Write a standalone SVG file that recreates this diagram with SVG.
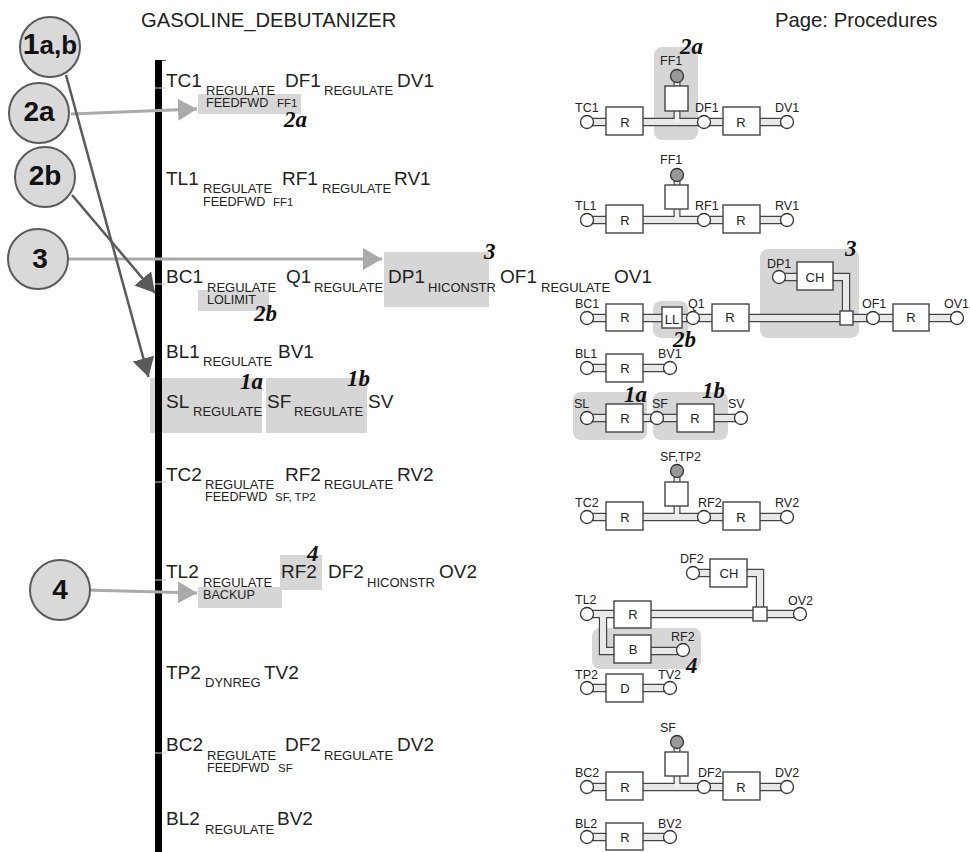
<svg xmlns="http://www.w3.org/2000/svg" width="970" height="852" viewBox="0 0 970 852">
<style>
text{font-family:"Liberation Sans",Arial,sans-serif;fill:#222}
.t{font-size:19px}.s{font-size:13px}.x{font-size:12.6px}.y{font-size:11.5px}.lb{font-size:12.5px}
.note{font-family:"Liberation Serif","Times New Roman",serif;font-style:italic;font-weight:bold;font-size:23px;fill:#111}
.num{font-weight:bold;font-size:28px;text-anchor:middle;fill:#111}
.bg{fill:#d6d6d6}
.po{fill:none;stroke:#444;stroke-width:8.4}
.pi{fill:none;stroke:#e8e8e8;stroke-width:6}
.so{fill:none;stroke:#444;stroke-width:7}
.si{fill:none;stroke:#f0f0f0;stroke-width:4.6}
.b{fill:#fff;stroke:#444;stroke-width:1.4}
.c{fill:#fff;stroke:#333;stroke-width:1.3}
.g{fill:#999;stroke:#333;stroke-width:1.3}
.bt{font-size:13px;text-anchor:middle}
.cir{fill:#d9d9d9;stroke:#5a5a5a;stroke-width:2}
.tick{stroke:#ccc;stroke-width:1}
</style>
<defs>
<marker id="al" markerUnits="userSpaceOnUse" markerWidth="20" markerHeight="22" refX="19" refY="11" orient="auto"><path d="M0 0L19 11L0 22z" fill="#aaa"/></marker>
<marker id="ad" markerUnits="userSpaceOnUse" markerWidth="20" markerHeight="22" refX="19" refY="11" orient="auto"><path d="M0 0L19 11L0 22z" fill="#5a5a5a"/></marker>
</defs>

<text x="141" y="27" style="font-size:20.2px">GASOLINE_DEBUTANIZER</text>
<text x="775" y="27" style="font-size:20.3px">Page: Procedures</text>

<g id="highlights">
<rect class="bg" x="198" y="94" width="103" height="20"/>
<rect class="bg" x="198" y="290" width="71" height="21"/>
<rect class="bg" x="384" y="252" width="105" height="55"/>
<rect class="bg" x="150" y="378" width="112" height="55"/>
<rect class="bg" x="266" y="378" width="101" height="55"/>
<rect class="bg" x="198" y="587" width="84" height="21"/>
<rect class="bg" x="280" y="555" width="42" height="35"/>
<rect class="bg" x="654" y="47" width="44" height="93" rx="8"/>
<rect class="bg" x="653" y="301" width="35" height="37" rx="8"/>
<rect class="bg" x="760" y="249" width="99" height="89" rx="8"/>
<rect class="bg" x="573" y="392" width="74" height="48" rx="8"/>
<rect class="bg" x="653" y="392" width="75" height="48" rx="8"/>
<rect class="bg" x="592" y="628" width="109" height="41" rx="8"/>
</g>

<g id="time-axis">
<rect x="155" y="60" width="7" height="792" fill="#000"/>
<path class="tick" d="M155 88H166M155 284H166M155 482H166M155 580H166M155 753H166"/>
<path d="M162 60.5H166" stroke="#555" stroke-width="1"/>
</g>

<g id="proc-labels">
<text class="t" x="166" y="87">TC1</text><text class="s" x="206" y="95">REGULATE</text><text class="x" x="206" y="107">FEEDFWD</text><text class="y" x="277" y="107">FF1</text><text class="t" x="285" y="87">DF1</text><text class="s" x="324" y="95">REGULATE</text><text class="t" x="397" y="87">DV1</text>
<text class="t" x="166" y="185">TL1</text><text class="s" x="203" y="193">REGULATE</text><text class="x" x="203" y="206">FEEDFWD</text><text class="y" x="273" y="206">FF1</text><text class="t" x="282" y="185">RF1</text><text class="s" x="322" y="193">REGULATE</text><text class="t" x="394" y="185">RV1</text>
<text class="t" x="166" y="283">BC1</text><text class="s" x="207" y="292">REGULATE</text><text class="x" x="207" y="304">LOLIMIT</text><text class="t" x="286" y="283">Q1</text><text class="s" x="314" y="292">REGULATE</text><text class="t" x="388" y="283">DP1</text><text class="s" x="428" y="292">HICONSTR</text><text class="t" x="500" y="283">OF1</text><text class="s" x="541" y="292">REGULATE</text><text class="t" x="614" y="283">OV1</text>
<text class="t" x="166" y="358">BL1</text><text class="s" x="203" y="366">REGULATE</text><text class="t" x="278" y="358">BV1</text>
<text class="t" x="166" y="408">SL</text><text class="s" x="193" y="416">REGULATE</text><text class="t" x="267" y="408">SF</text><text class="s" x="294" y="416">REGULATE</text><text class="t" x="368" y="408">SV</text>
<text class="t" x="166" y="481">TC2</text><text class="s" x="205" y="489">REGULATE</text><text class="x" x="205" y="501">FEEDFWD</text><text class="y" x="275" y="501">SF, TP2</text><text class="t" x="285" y="481">RF2</text><text class="s" x="324" y="489">REGULATE</text><text class="t" x="397" y="481">RV2</text>
<text class="t" x="166" y="578">TL2</text><text class="s" x="203" y="587">REGULATE</text><text class="x" x="203" y="599">BACKUP</text><text class="t" x="281" y="578">RF2</text><text class="t" x="328" y="578">DF2</text><text class="s" x="367" y="587">HICONSTR</text><text class="t" x="439" y="578">OV2</text>
<text class="t" x="166" y="679">TP2</text><text class="s" x="205" y="687">DYNREG</text><text class="t" x="264" y="679">TV2</text>
<text class="t" x="166" y="751">BC2</text><text class="s" x="207" y="760">REGULATE</text><text class="x" x="207" y="772">FEEDFWD</text><text class="y" x="278" y="772">SF</text><text class="t" x="285" y="751">DF2</text><text class="s" x="324" y="760">REGULATE</text><text class="t" x="397" y="751">DV2</text>
<text class="t" x="166" y="825">BL2</text><text class="s" x="205" y="834">REGULATE</text><text class="t" x="277" y="825">BV2</text>
</g>

<g id="notes">
<text class="note" x="284" y="127">2a</text><text class="note" x="680" y="54">2a</text>
<text class="note" x="254" y="321">2b</text><text class="note" x="673" y="347">2b</text>
<text class="note" x="484" y="259">3</text><text class="note" x="845" y="256">3</text>
<text class="note" x="240" y="389">1a</text><text class="note" x="347" y="386">1b</text>
<text class="note" x="624" y="402">1a</text><text class="note" x="702" y="398">1b</text>
<text class="note" x="307" y="561">4</text><text class="note" x="686" y="673">4</text>
</g>

<g id="connectors">
<path d="M71 114L197 109" fill="none" stroke="#aaa" stroke-width="3" marker-end="url(#al)"/>
<path d="M68 259H382" fill="none" stroke="#aaa" stroke-width="3" marker-end="url(#al)"/>
<path d="M86 590L197 593" fill="none" stroke="#aaa" stroke-width="3" marker-end="url(#al)"/>
<path d="M72 195L155 293" fill="none" stroke="#5a5a5a" stroke-width="2.5" marker-end="url(#ad)"/>
<path d="M66 75L148.5 377" fill="none" stroke="#5a5a5a" stroke-width="2.5" marker-end="url(#ad)"/>
<g id="pipes">
<path class="po" d="M587 122H787"/><path class="so" d="M677 76V122"/><path class="pi" d="M587 122H787"/><path class="si" d="M677 76V122"/>
<path class="po" d="M587 220H787"/><path class="so" d="M677 175V220"/><path class="pi" d="M587 220H787"/><path class="si" d="M677 175V220"/>
<path class="po" d="M587 318H957M779 277H846V318"/><path class="pi" d="M587 318H957M779 277H846V318"/>
<path class="po" d="M587 368H670"/><path class="pi" d="M587 368H670"/>
<path class="po" d="M587 418H741"/><path class="pi" d="M587 418H741"/>
<path class="po" d="M587 517H787"/><path class="so" d="M677 471V517"/><path class="pi" d="M587 517H787"/><path class="si" d="M677 471V517"/>
<path class="po" d="M587 614H800M693 573H760V614M603 614V651H683"/><path class="pi" d="M587 614H800M693 573H760V614M603 614V651H683"/>
<path class="po" d="M587 688H670"/><path class="pi" d="M587 688H670"/>
<path class="po" d="M587 787H787"/><path class="so" d="M677 742V787"/><path class="pi" d="M587 787H787"/><path class="si" d="M677 742V787"/>
<path class="po" d="M587 837H670"/><path class="pi" d="M587 837H670"/>
</g>
</g>

<g id="callout-1ab"><circle class="cir" cx="50" cy="47" r="30"/><text class="num" x="50" y="54"><tspan style="font-size:30px">1</tspan><tspan style="font-size:26px">a,b</tspan></text></g>
<g id="callout-2a"><circle class="cir" cx="39" cy="113" r="30"/><text class="num" x="39" y="121">2a</text></g>
<g id="callout-2b"><circle class="cir" cx="45" cy="177" r="30"/><text class="num" x="45" y="185">2b</text></g>
<g id="callout-3"><circle class="cir" cx="38" cy="259" r="30"/><text class="num" x="40" y="268">3</text></g>
<g id="callout-4"><circle class="cir" cx="60" cy="590" r="30"/><text class="num" x="60" y="599">4</text></g>

<g id="row-1">
<rect class="b" x="606" y="107" width="37" height="28"/><text class="bt" x="625" y="127">R</text><rect class="b" x="723" y="107" width="37" height="28"/><text class="bt" x="741" y="127">R</text>
<rect class="b" x="665" y="86" width="23" height="25"/>
<circle class="c" cx="587" cy="122" r="6.5"/><circle class="c" cx="704" cy="122" r="6.5"/><circle class="c" cx="787" cy="122" r="6.5"/><circle class="g" cx="677" cy="76" r="6.5"/>
<text class="lb" x="575" y="112">TC1</text><text class="lb" x="695" y="112">DF1</text><text class="lb" x="775" y="112">DV1</text><text class="lb" x="660" y="65">FF1</text>
</g>
<g id="row-2">
<rect class="b" x="606" y="205" width="37" height="28"/><text class="bt" x="625" y="225">R</text><rect class="b" x="723" y="205" width="37" height="28"/><text class="bt" x="741" y="225">R</text>
<rect class="b" x="665" y="185" width="23" height="24"/>
<circle class="c" cx="587" cy="220" r="6.5"/><circle class="c" cx="704" cy="220" r="6.5"/><circle class="c" cx="787" cy="220" r="6.5"/><circle class="g" cx="677" cy="175" r="6.5"/>
<text class="lb" x="575" y="210">TL1</text><text class="lb" x="695" y="210">RF1</text><text class="lb" x="775" y="210">RV1</text><text class="lb" x="660" y="164">FF1</text>
</g>
<g id="row-3">
<rect class="b" x="606" y="304" width="37" height="27"/><text class="bt" x="625" y="322">R</text><rect class="b" x="662" y="307" width="20" height="21"/><text class="bt" x="672" y="324">LL</text><rect class="b" x="712" y="304" width="37" height="27"/><text class="bt" x="730" y="322">R</text><rect class="b" x="893" y="304" width="36" height="27"/><text class="bt" x="911" y="322">R</text><rect class="b" x="797" y="262" width="36" height="28"/><text class="bt" x="815" y="282">CH</text><rect class="b" x="840" y="311" width="13" height="14"/>
<circle class="c" cx="587" cy="318" r="6.5"/><circle class="c" cx="693" cy="318" r="6.5"/><circle class="c" cx="873" cy="318" r="6.5"/><circle class="c" cx="957" cy="318" r="6.5"/><circle class="c" cx="779" cy="277" r="6.5"/>
<text class="lb" x="575" y="308">BC1</text><text class="lb" x="688" y="308">Q1</text><text class="lb" x="862" y="308">OF1</text><text class="lb" x="944" y="308">OV1</text><text class="lb" x="767" y="268">DP1</text>
</g>
<g id="row-4">
<rect class="b" x="606" y="354" width="37" height="28"/><text class="bt" x="625" y="373">R</text>
<circle class="c" cx="587" cy="368" r="6.5"/><circle class="c" cx="670" cy="368" r="6.5"/>
<text class="lb" x="575" y="358">BL1</text><text class="lb" x="658" y="358">BV1</text>
</g>
<g id="row-5">
<rect class="b" x="606" y="404" width="37" height="28"/><text class="bt" x="625" y="423">R</text><rect class="b" x="677" y="404" width="37" height="28"/><text class="bt" x="695" y="423">R</text>
<circle class="c" cx="587" cy="418" r="6.5"/><circle class="c" cx="657" cy="418" r="6.5"/><circle class="c" cx="741" cy="418" r="6.5"/>
<text class="lb" x="574" y="408">SL</text><text class="lb" x="652" y="408">SF</text><text class="lb" x="728" y="408">SV</text>
</g>
<g id="row-6">
<rect class="b" x="606" y="502" width="37" height="28"/><text class="bt" x="625" y="522">R</text><rect class="b" x="723" y="502" width="37" height="28"/><text class="bt" x="741" y="522">R</text>
<rect class="b" x="665" y="482" width="23" height="24"/>
<circle class="c" cx="587" cy="517" r="6.5"/><circle class="c" cx="704" cy="517" r="6.5"/><circle class="c" cx="787" cy="517" r="6.5"/><circle class="g" cx="677" cy="471" r="6.5"/>
<text class="lb" x="575" y="507">TC2</text><text class="lb" x="698" y="507">RF2</text><text class="lb" x="775" y="507">RV2</text><text class="lb" x="660" y="461">SF,TP2</text>
</g>
<g id="row-7">
<rect class="b" x="614" y="601" width="37" height="27"/><text class="bt" x="633" y="619">R</text><rect class="b" x="614" y="635" width="37" height="28"/><text class="bt" x="633" y="654">B</text><rect class="b" x="710" y="559" width="37" height="28"/><text class="bt" x="729" y="578">CH</text><rect class="b" x="753" y="607" width="14" height="14"/>
<circle class="c" cx="587" cy="614" r="6.5"/><circle class="c" cx="800" cy="614" r="6.5"/><circle class="c" cx="693" cy="573" r="6.5"/><circle class="c" cx="683" cy="650" r="6.5"/>
<text class="lb" x="575" y="604">TL2</text><text class="lb" x="788" y="605">OV2</text><text class="lb" x="680" y="563">DF2</text><text class="lb" x="671" y="641">RF2</text>
</g>
<g id="row-8">
<rect class="b" x="606" y="674" width="37" height="28"/><text class="bt" x="625" y="693">D</text>
<circle class="c" cx="587" cy="688" r="6.5"/><circle class="c" cx="670" cy="688" r="6.5"/>
<text class="lb" x="575" y="679">TP2</text><text class="lb" x="658" y="679">TV2</text>
</g>
<g id="row-9">
<rect class="b" x="606" y="772" width="37" height="28"/><text class="bt" x="625" y="792">R</text><rect class="b" x="723" y="772" width="37" height="28"/><text class="bt" x="741" y="792">R</text>
<rect class="b" x="665" y="752" width="23" height="24"/>
<circle class="c" cx="587" cy="787" r="6.5"/><circle class="c" cx="704" cy="787" r="6.5"/><circle class="c" cx="787" cy="787" r="6.5"/><circle class="g" cx="677" cy="742" r="6.5"/>
<text class="lb" x="575" y="777">BC2</text><text class="lb" x="698" y="777">DF2</text><text class="lb" x="775" y="777">DV2</text><text class="lb" x="660" y="732">SF</text>
</g>
<g id="row-10">
<rect class="b" x="606" y="823" width="37" height="27"/><text class="bt" x="625" y="842">R</text>
<circle class="c" cx="587" cy="837" r="6.5"/><circle class="c" cx="670" cy="837" r="6.5"/>
<text class="lb" x="575" y="828">BL2</text><text class="lb" x="658" y="828">BV2</text>
</g>
</svg>
